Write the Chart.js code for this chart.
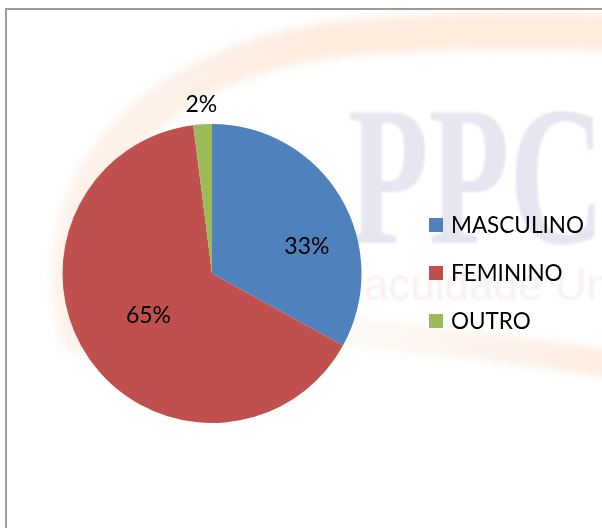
<!DOCTYPE html>
<html><head><meta charset="utf-8">
<script src="https://cdn.jsdelivr.net/npm/chart.js@4/dist/chart.umd.min.js"></script>
<style>html,body{margin:0;padding:0;background:#fff;}canvas{display:block}</style>
</head><body>
<canvas id="c" width="602" height="528"></canvas>
<script>
const categories = ['MASCULINO', 'FEMININO', 'OUTRO'];
const values = [33, 65, 2];
const valueLabels = ['33%', '65%', '2%'];
const colors = ['#4F81BD', '#C0504D', '#9BBB59'];

// label placement (style): radius fraction and angle shift in degrees
const labelPlace = [{f: 0.66, dA: 14.6}, {f: 0.51, dA: 0.6}, {f: 1.13, dA: 0}];
const FONT = 'Lato, "Open Sans", sans-serif';

const watermark = {
  id: 'watermark',
  beforeDraw(chart) {
    const ctx = chart.ctx;
    ctx.save();
    ctx.filter = 'blur(4px)';
    ctx.lineCap = 'round';
    // top swoosh
    let g = ctx.createLinearGradient(40, 0, 602, 0);
    g.addColorStop(0, 'rgba(252,236,225,0.6)');
    g.addColorStop(0.5, 'rgba(253,236,222,1)');
    g.addColorStop(1, 'rgba(253,235,220,1)');
    ctx.strokeStyle = g;
    ctx.lineWidth = 36;
    ctx.beginPath();
    ctx.moveTo(78, 335);
    ctx.bezierCurveTo(40, 200, 130, 70, 330, 40);
    ctx.quadraticCurveTo(470, 26, 640, 34);
    ctx.stroke();
    // bottom swoosh
    g = ctx.createLinearGradient(330, 0, 602, 0);
    g.addColorStop(0, 'rgba(253,238,228,0.3)');
    g.addColorStop(1, 'rgba(253,236,224,1)');
    ctx.strokeStyle = g;
    ctx.lineWidth = 28;
    ctx.beginPath();
    ctx.moveTo(330, 330);
    ctx.quadraticCurveTo(470, 343, 640, 368);
    ctx.stroke();
    ctx.filter = 'blur(1px)';
    // PPC letters
    ctx.fillStyle = 'rgba(224,224,238,0.8)';
    ctx.font = 'bold 200px "Liberation Serif", serif';
    ctx.textBaseline = 'alphabetic';
    ctx.save();
    ctx.translate(348, 243);
    ctx.scale(0.66, 1);
    ctx.fillText('PPC', 0, 0);
    ctx.restore();
    // subtitle text
    ctx.fillStyle = 'rgba(240,222,215,0.45)';
    ctx.font = '44px "Liberation Sans", sans-serif';
    ctx.fillText('Faculdade Uni', 337, 300);
    ctx.filter = 'none';
    // frame
    ctx.strokeStyle = '#9a9a9a';
    ctx.lineWidth = 2;
    ctx.strokeRect(6, 9, 800, 800);
    ctx.restore();
  }
};

const labelsAndLegend = {
  id: 'labelsAndLegend',
  afterDatasetsDraw(chart) {
    const ctx = chart.ctx;
    const meta = chart.getDatasetMeta(0);
    ctx.save();
    ctx.fillStyle = '#000';
    ctx.font = '23px ' + FONT;
    ctx.textAlign = 'center';
    ctx.textBaseline = 'middle';
    meta.data.forEach((arc, i) => {
      const p = arc.getProps(['x', 'y', 'startAngle', 'endAngle', 'outerRadius'], true);
      const a = (p.startAngle + p.endAngle) / 2 + labelPlace[i].dA * Math.PI / 180;
      const r = p.outerRadius * labelPlace[i].f;
      ctx.fillText(valueLabels[i], p.x + Math.cos(a) * r, p.y + Math.sin(a) * r);
    });
    // legend
    ctx.font = '22.5px ' + FONT;
    ctx.textAlign = 'left';
    ctx.textBaseline = 'alphabetic';
    categories.forEach((c, i) => {
      const y = 218 + 48 * i;
      ctx.fillStyle = colors[i];
      ctx.fillRect(429, y, 14, 14);
      ctx.fillStyle = '#000';
      ctx.fillText(c, 451, y + 15);
    });
    ctx.restore();
  }
};

new Chart(document.getElementById('c'), {
  type: 'pie',
  data: {
    labels: categories,
    datasets: [{
      data: values,
      backgroundColor: colors,
      borderWidth: 0
    }]
  },
  options: {
    responsive: false,
    animation: false,
    layout: {padding: {left: 62, right: 240, top: 124, bottom: 105}},
    plugins: {legend: {display: false}, tooltip: {enabled: false}}
  },
  plugins: [watermark, labelsAndLegend]
});
</script>
</body></html>
